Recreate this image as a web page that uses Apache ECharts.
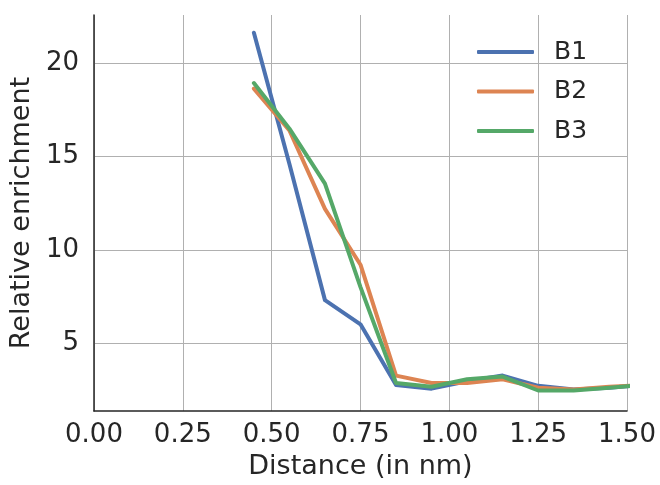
<!DOCTYPE html>
<html><head><meta charset="utf-8">
<script src="https://cdn.jsdelivr.net/npm/echarts@6/dist/echarts.min.js"></script>
<style>html,body{margin:0;padding:0;background:#fff}#c{width:660px;height:485px}</style>
</head><body><div id="c"></div>
<script>
const distances = [0.45, 0.55, 0.65, 0.75, 0.85, 0.95, 1.05, 1.15, 1.25, 1.35, 1.45, 1.55];
const seriesNames = ['B1', 'B2', 'B3'];
const b1 = [21.65, 14.6, 7.3, 6.0, 2.75, 2.55, 2.95, 3.25, 2.7, 2.5, 2.6, 2.75];
const b2 = [18.65, 16.4, 12.2, 9.2, 3.25, 2.85, 2.85, 3.05, 2.6, 2.5, 2.65, 2.75];
const b3 = [18.95, 16.5, 13.55, 8.0, 2.85, 2.65, 3.05, 3.2, 2.45, 2.45, 2.6, 2.75];
const xTicks = [0, 0.25, 0.5, 0.75, 1.0, 1.25, 1.5];
const yTicks = [5, 10, 15, 20];
const colors = ['#4C72B0', '#DD8452', '#55A868'];
const values = [b1, b2, b3];

const chart = echarts.init(document.getElementById('c'), null, {renderer: 'canvas'});
const font = 'DejaVu Sans';
chart.setOption({
  animation: false,
  backgroundColor: '#fff',
  grid: {left: 93, right: 33, top: 15, bottom: 73, containLabel: false},
  legend: {
    orient: 'vertical', left: 477, top: 39.5, padding: 0,
    itemWidth: 57, itemHeight: 4, itemGap: 14.5,
    icon: 'roundRect',
    data: seriesNames,
    textStyle: {fontFamily: font, fontSize: 25, color: '#262626', padding: [0, 0, 0, 15], lineHeight: 25}
  },
  xAxis: {
    type: 'value', min: 0, max: 1.5, interval: 0.25,
    name: 'Distance (in nm)', nameLocation: 'middle', nameGap: 42,
    nameTextStyle: {fontFamily: font, fontSize: 27, color: '#262626'},
    axisLine: {show: true, lineStyle: {color: '#262626', width: 1.5}},
    axisTick: {show: false},
    axisLabel: {fontFamily: font, fontSize: 26, color: '#262626', margin: 11,
      customValues: xTicks, formatter: v => v.toFixed(2)},
    splitLine: {show: true, lineStyle: {color: '#b0b0b0', width: 1}}
  },
  yAxis: {
    type: 'value', min: 1.35, max: 22.6,
    name: 'Relative enrichment', nameLocation: 'middle', nameGap: 56,
    nameTextStyle: {fontFamily: font, fontSize: 27, color: '#262626'},
    axisLine: {show: true, lineStyle: {color: '#262626', width: 1.5}},
    axisTick: {show: false, customValues: yTicks},
    axisLabel: {fontFamily: font, fontSize: 26, color: '#262626', margin: 15,
      customValues: yTicks},
    splitLine: {show: true, lineStyle: {color: '#b0b0b0', width: 1}}
  },
  series: values.map((v, i) => ({
    name: seriesNames[i], type: 'line', clip: true,
    data: distances.map((d, j) => [d, v[j]]),
    showSymbol: false, symbol: 'none',
    lineStyle: {color: colors[i], width: 4, cap: 'round', join: 'round'},
    itemStyle: {color: colors[i]}
  }))
});
</script></body></html>
